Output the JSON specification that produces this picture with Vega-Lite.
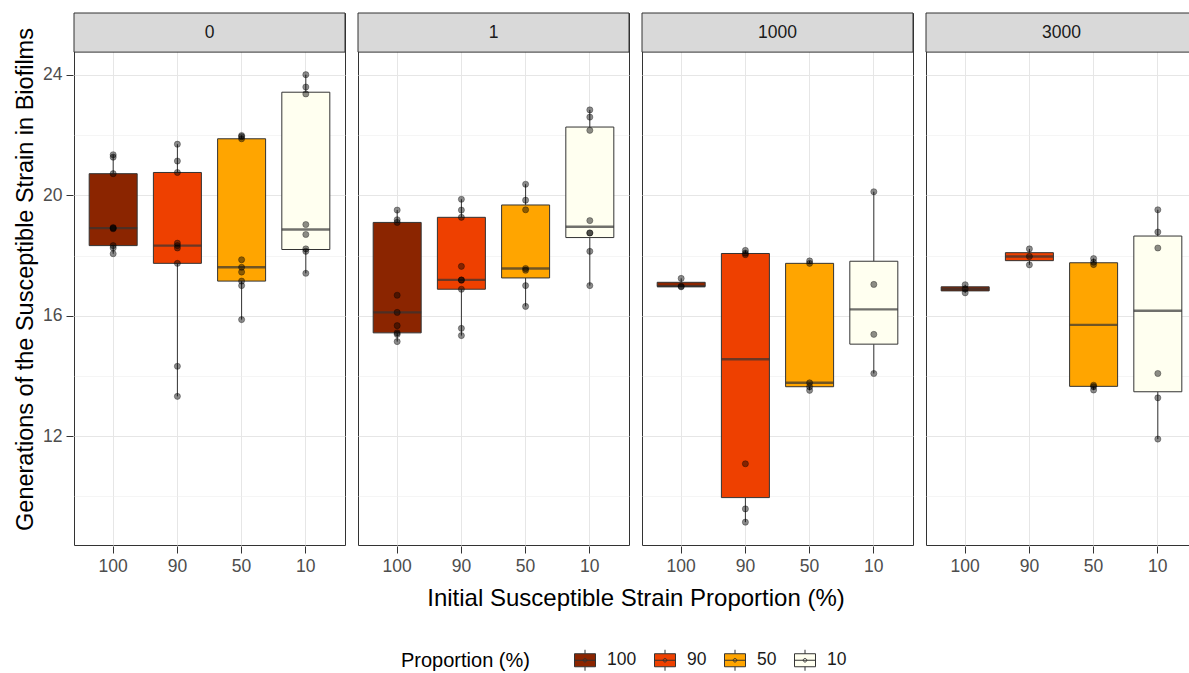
{
  "$schema": "https://vega.github.io/schema/vega-lite/v6.json",
  "padding": {"left": 13, "right": 0, "top": 12, "bottom": 0},
  "data": {
    "values": [
      {"conc": "0", "prop": "100", "gen": 21.35}, {"conc": "0", "prop": "100", "gen": 21.27}, {"conc": "0", "prop": "100", "gen": 20.72},
      {"conc": "0", "prop": "100", "gen": 18.93}, {"conc": "0", "prop": "100", "gen": 18.91}, {"conc": "0", "prop": "100", "gen": 18.89},
      {"conc": "0", "prop": "100", "gen": 18.33}, {"conc": "0", "prop": "100", "gen": 18.25}, {"conc": "0", "prop": "100", "gen": 18.06},
      {"conc": "0", "prop": "90", "gen": 21.70}, {"conc": "0", "prop": "90", "gen": 21.14}, {"conc": "0", "prop": "90", "gen": 20.76},
      {"conc": "0", "prop": "90", "gen": 18.41}, {"conc": "0", "prop": "90", "gen": 18.33}, {"conc": "0", "prop": "90", "gen": 18.25},
      {"conc": "0", "prop": "90", "gen": 17.74}, {"conc": "0", "prop": "90", "gen": 14.32}, {"conc": "0", "prop": "90", "gen": 13.32},
      {"conc": "0", "prop": "50", "gen": 21.99}, {"conc": "0", "prop": "50", "gen": 21.95}, {"conc": "0", "prop": "50", "gen": 21.88},
      {"conc": "0", "prop": "50", "gen": 17.86}, {"conc": "0", "prop": "50", "gen": 17.61}, {"conc": "0", "prop": "50", "gen": 17.45},
      {"conc": "0", "prop": "50", "gen": 17.15}, {"conc": "0", "prop": "50", "gen": 17.00}, {"conc": "0", "prop": "50", "gen": 15.87},
      {"conc": "0", "prop": "10", "gen": 24.01}, {"conc": "0", "prop": "10", "gen": 23.60}, {"conc": "0", "prop": "10", "gen": 23.37},
      {"conc": "0", "prop": "10", "gen": 19.03}, {"conc": "0", "prop": "10", "gen": 18.70}, {"conc": "0", "prop": "10", "gen": 18.22},
      {"conc": "0", "prop": "10", "gen": 18.14}, {"conc": "0", "prop": "10", "gen": 17.41},
      {"conc": "1", "prop": "100", "gen": 19.51}, {"conc": "1", "prop": "100", "gen": 19.19}, {"conc": "1", "prop": "100", "gen": 19.10},
      {"conc": "1", "prop": "100", "gen": 16.68}, {"conc": "1", "prop": "100", "gen": 16.11}, {"conc": "1", "prop": "100", "gen": 15.67},
      {"conc": "1", "prop": "100", "gen": 15.43}, {"conc": "1", "prop": "100", "gen": 15.38}, {"conc": "1", "prop": "100", "gen": 15.14},
      {"conc": "1", "prop": "90", "gen": 19.87}, {"conc": "1", "prop": "90", "gen": 19.51}, {"conc": "1", "prop": "90", "gen": 19.27},
      {"conc": "1", "prop": "90", "gen": 17.64}, {"conc": "1", "prop": "90", "gen": 17.19}, {"conc": "1", "prop": "90", "gen": 17.18},
      {"conc": "1", "prop": "90", "gen": 16.88}, {"conc": "1", "prop": "90", "gen": 15.58}, {"conc": "1", "prop": "90", "gen": 15.34},
      {"conc": "1", "prop": "50", "gen": 20.37}, {"conc": "1", "prop": "50", "gen": 19.84}, {"conc": "1", "prop": "50", "gen": 19.52},
      {"conc": "1", "prop": "50", "gen": 17.57}, {"conc": "1", "prop": "50", "gen": 17.51}, {"conc": "1", "prop": "50", "gen": 17.00},
      {"conc": "1", "prop": "50", "gen": 16.31},
      {"conc": "1", "prop": "10", "gen": 22.84}, {"conc": "1", "prop": "10", "gen": 22.60}, {"conc": "1", "prop": "10", "gen": 22.16},
      {"conc": "1", "prop": "10", "gen": 19.16}, {"conc": "1", "prop": "10", "gen": 18.75}, {"conc": "1", "prop": "10", "gen": 18.75},
      {"conc": "1", "prop": "10", "gen": 18.14}, {"conc": "1", "prop": "10", "gen": 17.00},
      {"conc": "1000", "prop": "100", "gen": 17.24}, {"conc": "1000", "prop": "100", "gen": 16.98}, {"conc": "1000", "prop": "100", "gen": 16.96},
      {"conc": "1000", "prop": "90", "gen": 18.17}, {"conc": "1000", "prop": "90", "gen": 18.08}, {"conc": "1000", "prop": "90", "gen": 18.03},
      {"conc": "1000", "prop": "90", "gen": 11.08}, {"conc": "1000", "prop": "90", "gen": 9.58}, {"conc": "1000", "prop": "90", "gen": 9.14},
      {"conc": "1000", "prop": "50", "gen": 17.82}, {"conc": "1000", "prop": "50", "gen": 17.74}, {"conc": "1000", "prop": "50", "gen": 13.77},
      {"conc": "1000", "prop": "50", "gen": 13.64}, {"conc": "1000", "prop": "50", "gen": 13.52},
      {"conc": "1000", "prop": "10", "gen": 20.12}, {"conc": "1000", "prop": "10", "gen": 17.04}, {"conc": "1000", "prop": "10", "gen": 15.38},
      {"conc": "1000", "prop": "10", "gen": 14.08},
      {"conc": "3000", "prop": "100", "gen": 17.03}, {"conc": "3000", "prop": "100", "gen": 16.89}, {"conc": "3000", "prop": "100", "gen": 16.76},
      {"conc": "3000", "prop": "90", "gen": 18.22}, {"conc": "3000", "prop": "90", "gen": 17.97}, {"conc": "3000", "prop": "90", "gen": 17.69},
      {"conc": "3000", "prop": "50", "gen": 17.90}, {"conc": "3000", "prop": "50", "gen": 17.78}, {"conc": "3000", "prop": "50", "gen": 17.70},
      {"conc": "3000", "prop": "50", "gen": 13.69}, {"conc": "3000", "prop": "50", "gen": 13.64}, {"conc": "3000", "prop": "50", "gen": 13.53},
      {"conc": "3000", "prop": "10", "gen": 19.52}, {"conc": "3000", "prop": "10", "gen": 18.78}, {"conc": "3000", "prop": "10", "gen": 18.25},
      {"conc": "3000", "prop": "10", "gen": 14.08}, {"conc": "3000", "prop": "10", "gen": 13.27}, {"conc": "3000", "prop": "10", "gen": 11.90}
    ]
  },
  "facet": {
    "column": {"field": "conc", "type": "nominal", "sort": ["0", "1", "1000", "3000"],
      "title": "Initial Susceptible Strain Proportion (%)",
      "header": {"labels": false, "titleOrient": "bottom", "titleFontSize": 24, "titleFontWeight": "normal", "titleColor": "#000000", "titlePadding": 2, "titleFont": "Liberation Sans"}}
  },
  "spacing": 11,
  "resolve": {"scale": {"x": "shared", "y": "shared"}},
  "spec": {
    "width": 271,
    "height": 532,
    "layer": [
      {
        "mark": {
          "type": "boxplot",
          "extent": 1.5,
          "outliers": false,
          "size": 48,
          "box": {"stroke": "#333333", "strokeWidth": 1},
          "median": {"color": "#333333", "thickness": 2.4},
          "rule": {"color": "#333333", "strokeWidth": 1}
        },
        "encoding": {
          "x": {"field": "prop", "type": "nominal", "sort": ["100", "90", "50", "10"],
            "scale": {"paddingInner": 0, "paddingOuter": 0.11},
            "axis": {"title": null, "labelAngle": 0, "bandPosition": 0.5}},
          "y": {"field": "gen", "type": "quantitative",
            "scale": {"domain": [8.38, 26.06], "nice": false, "zero": false},
            "axis": {"title": "Generations of the Susceptible Strain in Biofilms",
              "values": [10, 12, 14, 16, 18, 20, 22, 24],
              "labelExpr": "datum.value % 4 == 0 ? datum.label : ''",
              "tickOpacity": {"condition": {"test": "datum.value % 4 != 0", "value": 0}, "value": 1},
              "gridWidth": {"condition": {"test": "datum.value % 4 != 0", "value": 0.6}, "value": 1},
              "gridColor": {"condition": {"test": "datum.value % 4 != 0", "value": "#eeeeee"}, "value": "#e6e6e6"}}},
          "color": {"field": "prop", "type": "nominal",
            "scale": {"domain": ["100", "90", "50", "10"], "range": ["#8B2500", "#EE4000", "#FFA500", "#FFFFF0"]},
            "legend": {
              "title": "Proportion (%)",
              "orient": "none",
              "legendX": 327,
              "legendY": 636,
              "direction": "horizontal",
              "titleOrient": "left",
              "titleFontSize": 20,
              "titleFontWeight": "normal",
              "titleColor": "#000000",
              "titlePadding": 44,
              "labelFontSize": 17.5,
              "labelColor": "#1a1a1a",
              "labelOffset": 11,
              "columnPadding": 15,
              "symbolType": "M-1,-0.62H1V0.62H-1Z M0,-0.62V-1 M0,0.62V1 M-1,0H1 M0.17,0A0.17,0.17 0 1 1 -0.17,0A0.17,0.17 0 1 1 0.17,0Z",
              "symbolSize": 441,
              "symbolStrokeColor": "#333333",
              "symbolStrokeWidth": 1,
              "symbolOpacity": 1
            }}
        }
      },
      {
        "mark": {"type": "point", "shape": "circle", "filled": true, "size": 38, "fill": "#000000", "fillOpacity": 0.45, "stroke": "#000000", "strokeOpacity": 0.55, "strokeWidth": 0.6},
        "encoding": {
          "x": {"field": "prop", "type": "nominal", "sort": ["100", "90", "50", "10"],
            "axis": {"title": null, "labelAngle": 0, "bandPosition": 0.5}},
          "y": {"field": "gen", "type": "quantitative",
            "axis": {"title": "Generations of the Susceptible Strain in Biofilms",
              "values": [10, 12, 14, 16, 18, 20, 22, 24],
              "labelExpr": "datum.value % 4 == 0 ? datum.label : ''",
              "tickOpacity": {"condition": {"test": "datum.value % 4 != 0", "value": 0}, "value": 1},
              "gridWidth": {"condition": {"test": "datum.value % 4 != 0", "value": 0.6}, "value": 1},
              "gridColor": {"condition": {"test": "datum.value % 4 != 0", "value": "#eeeeee"}, "value": "#e6e6e6"}}}
        }
      },
      {
        "transform": [{"aggregate": [{"op": "count", "as": "n"}], "groupby": ["conc"]}],
        "mark": {"type": "rect", "fill": "#d9d9d9", "stroke": "#333333", "strokeWidth": 1},
        "encoding": {
          "y": {"datum": 24.76, "type": "quantitative"},
          "y2": {"datum": 26.06}
        }
      },
      {
        "transform": [{"aggregate": [{"op": "count", "as": "n"}], "groupby": ["conc"]}],
        "mark": {"type": "text", "fontSize": 17.5, "color": "#1a1a1a", "align": "center", "baseline": "middle"},
        "encoding": {
          "x": {"datum": "90", "type": "nominal", "bandPosition": 1},
          "y": {"datum": 25.41, "type": "quantitative"},
          "text": {"field": "conc", "type": "nominal"}
        }
      }
    ]
  },
  "config": {
    "font": "Liberation Sans",
    "view": {"stroke": "#333333", "strokeWidth": 1},
    "axis": {
      "domain": false,
      "tickColor": "#333333",
      "tickSize": 7,
      "tickWidth": 1,
      "labelFontSize": 17.5,
      "labelColor": "#4d4d4d",
      "labelPadding": 4,
      "titleFontSize": 23.5,
      "titleFontWeight": "normal",
      "titleColor": "#000000",
      "grid": true,
      "gridColor": "#e6e6e6"
    },
    "axisY": {"titlePadding": 5}
  }
}
